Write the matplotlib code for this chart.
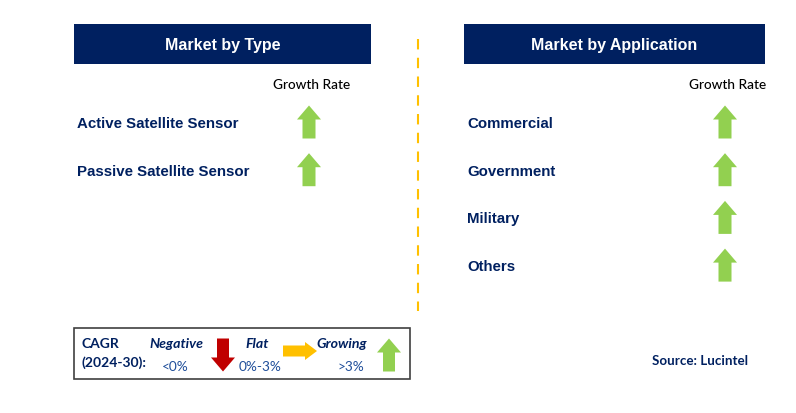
import matplotlib
matplotlib.use("Agg")
import matplotlib.pyplot as plt
from matplotlib.patches import Rectangle, Polygon

# ---- data ----
type_title = "Market by Type"
app_title = "Market by Application"
type_categories = ["Active Satellite Sensor", "Passive Satellite Sensor"]
type_trend = ["up", "up"]
app_categories = ["Commercial", "Government", "Military", "Others"]
app_trend = ["up", "up", "up", "up"]
column_label = "Growth Rate"
legend_labels = ["Negative", "Flat", "Growing"]
legend_ranges = ["<0%", "0%-3%", ">3%"]
cagr_label = ["CAGR", "(2024-30):"]
source_text = "Source: Lucintel"

NAVY = "#002060"
GREEN = "#92D050"
RED = "#C00000"
YELLOW = "#FFC000"
BLUE = "#1F4E9A"

W, H = 796, 414
fig = plt.figure(figsize=(W / 100, H / 100), dpi=100)
ax = fig.add_axes([0, 0, 1, 1])
ax.set_xlim(0, W)
ax.set_ylim(H, 0)
ax.axis("off")

ARIAL = "Liberation Sans"
CAL = "Lato"


def arrow(cx, cy, kind, length=33, width=24, shaft=12, head=14, color=GREEN):
    hl, hw, sw = length / 2, width / 2, shaft / 2
    if kind == "up":
        pts = [(cx, cy - hl), (cx + hw, cy - hl + head), (cx + sw, cy - hl + head),
               (cx + sw, cy + hl), (cx - sw, cy + hl), (cx - sw, cy - hl + head),
               (cx - hw, cy - hl + head)]
    elif kind == "down":
        pts = [(cx, cy + hl), (cx + hw, cy + hl - head), (cx + sw, cy + hl - head),
               (cx + sw, cy - hl), (cx - sw, cy - hl), (cx - sw, cy + hl - head),
               (cx - hw, cy + hl - head)]
    else:  # right
        pts = [(cx + hl, cy), (cx + hl - head, cy - hw), (cx + hl - head, cy - sw),
               (cx - hl, cy - sw), (cx - hl, cy + sw), (cx + hl - head, cy + sw),
               (cx + hl - head, cy + hw)]
    ax.add_patch(Polygon(pts, closed=True, facecolor=color, edgecolor="none"))


trend_color = {"up": GREEN, "down": RED, "right": YELLOW}


def panel(x0, x1, title, cats, trends, arrow_x, label_x):
    ax.add_patch(Rectangle((x0, 25), x1 - x0, 40, facecolor=NAVY, edgecolor="none"))
    ax.text((x0 + x1) / 2, 45.5, title, color="white", fontsize=11.5, fontweight="bold",
            family=ARIAL, ha="center", va="center")
    ax.text(arrow_x + 3, 85, column_label, color="black", fontsize=9.8,
            family=CAL, fontweight="medium", ha="center", va="center")
    for i, (c, t) in enumerate(zip(cats, trends)):
        y = 124 + i * 47.7
        ax.text(label_x, y, c, color=NAVY, fontsize=10.8, fontweight="bold",
                family=ARIAL, ha="left", va="center")
        arrow(arrow_x, y - 1, t, color=trend_color[t], shaft=13)


panel(74, 371, type_title, type_categories, type_trend, 309, 77)
panel(464, 765, app_title, app_categories, app_trend, 725, 467)

# divider
ax.plot([418, 418], [40, 312], color=YELLOW, lw=1.5, ls=(0, (5, 4)))

# legend box
ax.add_patch(Rectangle((74, 329), 336, 51, facecolor="white", edgecolor="#404040", lw=1.2))
ax.text(81, 344, cagr_label[0], color=NAVY, fontsize=10, fontweight="bold", family=CAL,
        ha="left", va="center")
ax.text(81, 363, cagr_label[1], color=NAVY, fontsize=10, fontweight="bold", family=CAL,
        ha="left", va="center")
lx = [176, 257, 342]
rx = [175, 260, 351]
for lab, rng, x, xr in zip(legend_labels, legend_ranges, lx, rx):
    ax.text(x, 344, lab, color=NAVY, fontsize=10.2, fontweight="bold", style="italic",
            family=CAL, ha="center", va="center")
    ax.text(xr, 367, rng, color=BLUE, fontsize=9.8, family=CAL, ha="center", va="center")
arrow(223, 356, "down", length=33, width=24, shaft=12, head=14, color=RED)
arrow(300, 352, "right", length=34, width=18, shaft=11, head=12, color=YELLOW)
arrow(389, 356, "up", length=33, width=24, shaft=12, head=14, color=GREEN)

ax.text(700, 361, source_text, color=NAVY, fontsize=9.6, fontweight="bold", family=CAL,
        ha="center", va="center")

fig.savefig("out.png", dpi=100)
